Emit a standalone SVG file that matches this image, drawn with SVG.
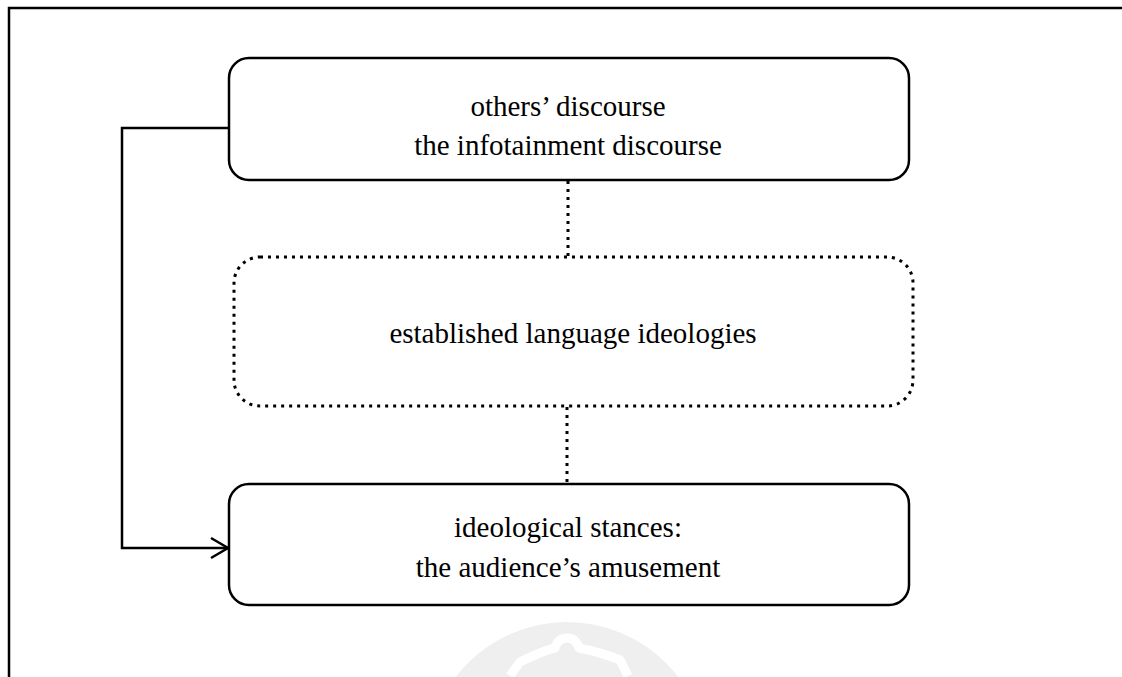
<svg xmlns="http://www.w3.org/2000/svg" width="1122" height="677" viewBox="0 0 1122 677">
  <style>
    .box { fill: #ffffff; stroke: #000000; stroke-width: 2.5; }
    .dotted { fill: #ffffff; stroke: #000000; stroke-width: 3; stroke-dasharray: 3 5; }
    .link { fill: none; stroke: #000000; stroke-width: 2.5; }
    .dots { fill: none; stroke: #000000; stroke-width: 3; stroke-dasharray: 3 5; }
    .label { font-family: "Liberation Serif", "Times New Roman", serif; font-size: 29px; fill: #000000; text-anchor: middle; }
  </style>
  <defs>
    <marker id="open-arrow" markerUnits="userSpaceOnUse" markerWidth="24" markerHeight="24" refX="20" refY="12" orient="auto">
      <path d="M3 2 L20 12 L3 22" fill="none" stroke="#000000" stroke-width="2.5"/>
    </marker>
  </defs>

  <rect width="1122" height="677" fill="#ffffff"/>

  <!-- faint seal in the background -->
  <g id="seal">
    <circle cx="567" cy="762" r="140" fill="#efefef"/>
    <path d="M510 676 L520 662 Q545 650 555 648 Q558 638 567 638 Q576 638 579 648 Q600 652 620 660 L628 676" fill="none" stroke="#ffffff" stroke-width="9" stroke-linejoin="round"/>
  </g>

  <!-- page frame -->
  <path d="M9 677 V8 H1122" fill="none" stroke="#000000" stroke-width="2.5"/>

  <g id="connectors">
    <path class="dots" d="M568 181 V256"/>
    <path class="dots" d="M567 407 V483"/>
    <path class="link" d="M229 128 H122 V548 H228" marker-end="url(#open-arrow)"/>
  </g>

  <g id="others-discourse">
    <rect class="box" x="229" y="58" width="680" height="122" rx="20"/>
    <text class="label" x="568" y="116">others’ discourse</text>
    <text class="label" x="568" y="155">the infotainment discourse</text>
  </g>

  <g id="language-ideologies">
    <rect class="dotted" x="234" y="257" width="679" height="149" rx="26"/>
    <text class="label" x="573" y="343">established language ideologies</text>
  </g>

  <g id="ideological-stances">
    <rect class="box" x="229" y="484" width="680" height="121" rx="20"/>
    <text class="label" x="568" y="537">ideological stances:</text>
    <text class="label" x="568" y="577">the audience’s amusement</text>
  </g>
</svg>
